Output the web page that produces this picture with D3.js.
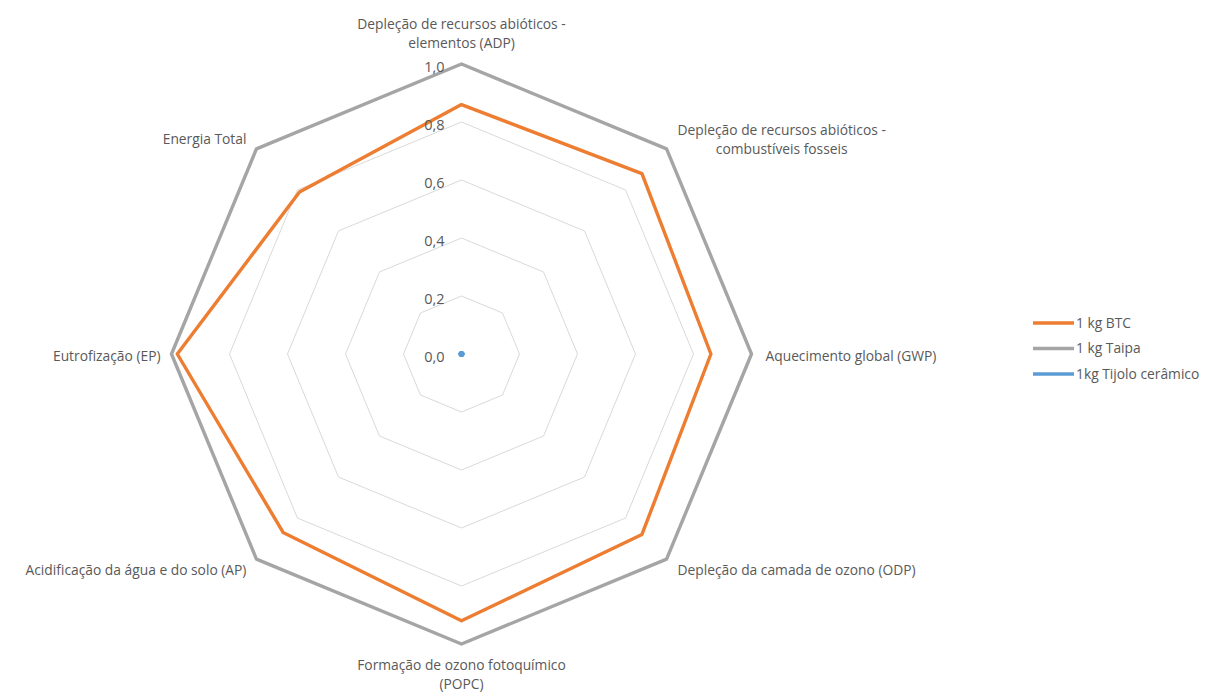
<html lang="pt">

<head>
  <meta charset="UTF-8">
  <title>Radar ACV</title>
  <script src="https://d3js.org/d3.v7.min.js"></script>
</head>

<style>
  body {
    margin: 0;
    background: #fff;
  }

  text {
    font-family: "Open Sans", "Liberation Sans", sans-serif;
    font-size: 13.8px;
    fill: #595959;
  }
</style>

<body>
  <svg class="radar" width="1215" height="699"></svg>
  <script>
    // impact categories, clockwise from the top
    const categories = [
      ['Depleção de recursos abióticos -', 'elementos (ADP)'],
      ['Depleção de recursos abióticos -', 'combustíveis fosseis'],
      ['Aquecimento global (GWP)'],
      ['Depleção da camada de ozono (ODP)'],
      ['Formação de ozono fotoquímico', '(POPC)'],
      ['Acidificação da água e do solo (AP)'],
      ['Eutrofização (EP)'],
      ['Energia Total']
    ];
    const btcValues = [0.86, 0.88, 0.86, 0.88, 0.92, 0.87, 0.98, 0.79];
    const taipaValues = [1, 1, 1, 1, 1, 1, 1, 1];
    const tijoloValues = [0, 0, 0, 0, 0, 0, 0, 0];
    const ticks = [0, 0.2, 0.4, 0.6, 0.8, 1.0];

    const seriesNames = ['1 kg BTC', '1 kg Taipa', '1kg Tijolo cerâmico'];
    const seriesColors = ['#ED7D31', '#A5A5A5', '#5B9BD5'];
    const seriesValues = [btcValues, taipaValues, tijoloValues];

    const svg = d3.select('svg.radar');
    const cx = 461.5, cy = 354, radius = 290;
    const n = categories.length;
    const angle = i => i * 2 * Math.PI / n;

    const rScale = d3.scaleLinear().domain([0, 1]).range([0, radius]);
    const fmt = v => d3.format('.1f')(v).replace('.', ',');

    let chart = svg.append('g')
      .attr('transform', `translate(${cx},${cy})`);

    const radial = d3.lineRadial()
      .angle((d, i) => angle(i))
      .radius(d => rScale(d))
      .curve(d3.curveLinearClosed);

    // octagon gridlines
    chart.append('g').selectAll('path')
      .data(ticks.slice(1))
      .join('path')
      .attr('d', t => radial(d3.range(n).map(() => t)))
      .attr('fill', 'none')
      .attr('stroke', '#d9d9d9')
      .attr('stroke-width', 1);

    // series lines
    seriesValues.forEach((vals, s) => {
      chart.append('path')
        .attr('d', radial(vals))
        .attr('fill', 'none')
        .attr('stroke', seriesColors[s])
        .attr('stroke-width', 3.4)
        .attr('stroke-linejoin', 'round')
        .attr('stroke-linecap', 'round');
    });

    // the all-zero series collapses onto the centre, so show its points
    chart.append('g').selectAll('circle')
      .data(tijoloValues)
      .join('circle')
      .attr('cx', (d, i) => rScale(d) * Math.sin(angle(i)))
      .attr('cy', (d, i) => -rScale(d) * Math.cos(angle(i)))
      .attr('r', 2.8)
      .attr('fill', seriesColors[2]);

    // value labels along the first axis
    chart.append('g').selectAll('text')
      .data(ticks)
      .join('text')
      .attr('x', -17)
      .attr('y', t => -rScale(t) + 4)
      .attr('text-anchor', 'end')
      .attr('dominant-baseline', 'middle')
      .style('font-size', '14.5px')
      .text(fmt);

    // category labels around the outside
    const lineHeight = 19;
    categories.forEach((lines, i) => {
      const a = angle(i);
      const sx = Math.sin(a), cyA = Math.cos(a);
      const vx = rScale(1) * sx, vy = -rScale(1) * cyA;

      let g = chart.append('g');
      lines.forEach((line, k) => {
        g.append('text')
          .attr('x', 0)
          .attr('y', k * lineHeight)
          .attr('text-anchor', 'middle')
          .attr('dominant-baseline', 'middle')
          .text(line);
      });
      const box = g.node().getBBox();

      let px, py;
      if (Math.abs(sx) < 0.1) {
        // top / bottom
        px = vx - (box.x + box.width / 2);
        py = cyA > 0 ? vy - 12 - (box.y + box.height) : vy + 11 - box.y;
      } else if (Math.abs(cyA) < 0.1) {
        // left / right
        px = sx > 0 ? vx + 14 - box.x : vx - 11 - (box.x + box.width);
        py = vy - (box.y + box.height / 2) + 1;
      } else {
        // diagonals
        px = sx > 0 ? vx + 11 - box.x : vx - 10 - (box.x + box.width);
        py = vy - 10 * Math.sign(cyA) - (box.y + box.height / 2);
      }
      g.attr('transform', `translate(${px},${py})`);
    });

    // legend
    let legend = svg.append('g')
      .attr('transform', 'translate(1033,323)');
    seriesNames.forEach((name, s) => {
      let row = legend.append('g')
        .attr('transform', `translate(0,${s * 25.5})`);
      row.append('line')
        .attr('x1', 0).attr('x2', 41)
        .attr('stroke', seriesColors[s])
        .attr('stroke-width', 3.4);
      row.append('text')
        .attr('x', 43)
        .attr('y', 1)
        .attr('dominant-baseline', 'middle')
        .text(name);
    });
  </script>
</body>

</html>
